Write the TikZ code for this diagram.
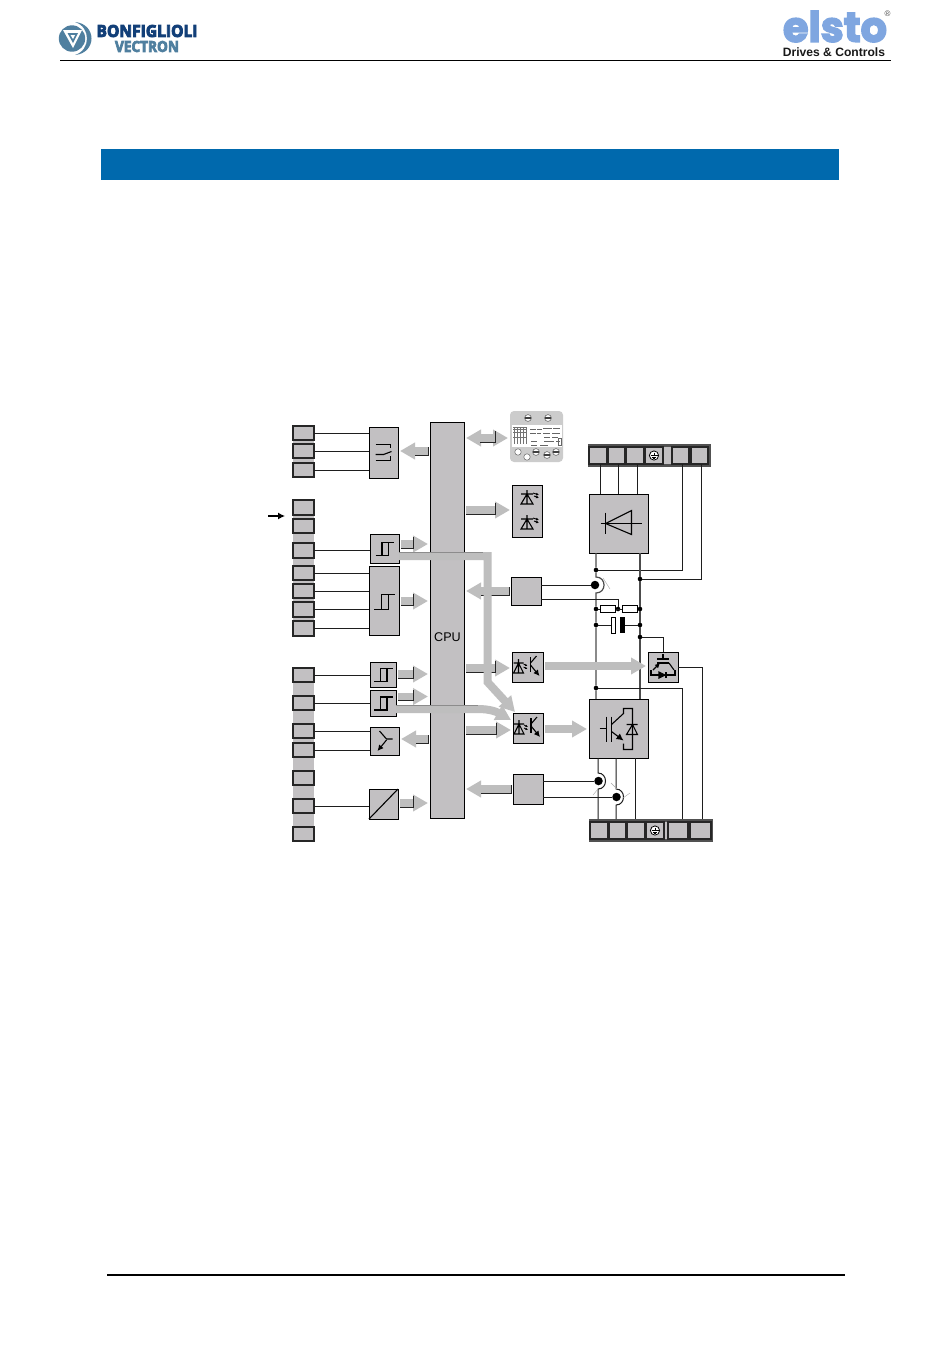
\documentclass[tikz,border=0pt]{standalone}
\usepackage{fontspec}
\usetikzlibrary{arrows.meta,calc}
\setmainfont{Liberation Sans}
\newfontfamily\logofont{Open Sans}
\newfontfamily\elstofont{Poppins}
\definecolor{boxgrey}{HTML}{C2C0C2}
\definecolor{arrgrey}{HTML}{BEBEBE}
\definecolor{wire}{HTML}{1E1E1E}
\definecolor{edge}{HTML}{262626}
\definecolor{barblue}{HTML}{0069AD}
\definecolor{navy}{HTML}{123F78}
\definecolor{steel}{HTML}{4F7F9F}
\definecolor{elstoblue}{HTML}{7FA6E0}
\tikzset{
  blk/.style={draw=black,fill=boxgrey,line width=0.9pt,inner sep=0pt,outer sep=0pt},
  term/.style={draw=edge,fill=boxgrey,line width=1.25pt,inner sep=0pt,outer sep=0pt},
  strip/.style={fill=boxgrey,draw=none,inner sep=0pt,outer sep=0pt},
  darkstrip/.style={fill=edge!80,draw=none,inner sep=0pt,outer sep=0pt},
  wirel/.style={draw=wire,line width=1pt},
  dot/.style={circle,fill=black,draw=none,minimum size=4.6pt,inner sep=0pt,outer sep=0pt},
  bigdot/.style={circle,fill=black,draw=none,minimum size=8.5pt,inner sep=0pt,outer sep=0pt},
  sym/.style={draw=black,line width=1.1pt},
  ga/.style={draw=arrgrey,line width=7.5pt,shorten <=2pt,shorten >=2pt,-{Triangle[length=15pt,width=16pt,fill=arrgrey]}},
  gab/.style={draw=arrgrey,line width=7.5pt,shorten <=2pt,shorten >=2pt,{Triangle[length=15pt,width=16pt,fill=arrgrey]}-{Triangle[length=15pt,width=16pt,fill=arrgrey]}},
  band/.style={draw=arrgrey,line width=8pt,miter limit=4,-{Triangle[length=15pt,width=16pt,fill=arrgrey]}},
  darkedge/.style={draw=edge,line width=0.7pt},
  tick/.style={draw=black!35,line width=0.4pt},
  schmitt/.pic={\draw[sym] (-10,9)--(4.3,9)--(4.3,-6)--(-2.7,-6)--(-2.7,9); \draw[sym] (-2.7,-6)--(10.7,-6);},
  schmitts/.pic={\draw[sym] (-9,7)--(4,7)--(4,-6)--(-2.5,-6)--(-2.5,7); \draw[sym] (-2.5,-6)--(9.5,-6);},
  relay/.pic={\draw[sym] (-8,-8)--(7,-8)--(7,-5); \draw[sym] (-8,2)--(0,2)--(8,-1); \draw[sym] (-8,8)--(7,8)--(7,3);},
  trans/.pic={\draw[sym] (-5,-10)--(2,-2)--(8,-2); \draw[sym,-{Latex[length=6pt,width=6pt]}] (2,-1)--(-7,10);},
  led/.pic={\draw[sym] (-6,-4)--(6,-4) (0,-8)--(0,6) (-6,6)--(6,6)--(0,-4)--(-6,6)--cycle;
            \draw[black,line width=0.9pt,-{Latex[length=3pt,width=3pt]}] (6,-5)--(12,-3);
            \draw[black,line width=0.9pt,-{Latex[length=3pt,width=3pt]}] (7,-2)--(12,0);},
  opto/.pic={\draw[sym] (-14,-4)--(-4,-4) (-9,-8)--(-9,6) (-14,6)--(-4,6)--(-9,-4)--(-14,6)--cycle;
            \draw[black,line width=0.8pt,-{Latex[length=2.5pt,width=2.5pt]}] (-4,-3)--(0,-1);
            \draw[black,line width=0.8pt,-{Latex[length=2.5pt,width=2.5pt]}] (-4,0)--(0,2);
            \draw[sym,line width=1.3pt] (3,-10)--(3,5);
            \draw[sym] (3,-4)--(9,-11);
            \draw[sym,-{Latex[length=6pt,width=6pt]}] (3,-2)--(12,9);},
  diode/.pic={\draw[sym] (-18,0)--(23,0); \draw[sym,line width=1.3pt] (-13,-11)--(-13,10); \draw[sym] (-13,0)--(13,-13)--(13,11)--cycle;},
  igbt/.pic={\draw[sym] (-19,0)--(-12,0); \draw[sym,line width=1.3pt] (-12,-12)--(-12,13) (-7,-12)--(-7,13);
     \draw[sym] (-7,-4)--(5,-15)--(5,-20)--(14,-20)--(14,21)--(5,21)--(5,15);
     \draw[sym,-{Latex[length=7pt,width=7pt]}] (-7,3)--(5,12);
     \draw[sym] (8,-4)--(19,-4) (14,-4)--(8,6)--(19,6)--cycle;},
  chopper/.pic={\draw[sym] (0,-13)--(0,-8) (-6,-8)--(6,-8); \draw[sym] (-6,-4)--(6,-4);
     \draw[sym,-{Latex[length=5pt,width=5pt]}] (-10,3)--(-3,-4);
     \draw[sym] (6,-4)--(11,3);
     \draw[sym] (-12,3)--(-12,8)--(-4,8) (3,8)--(12,8)--(12,3);
     \draw[sym,fill=black] (-4,5)--(-4,11)--(2,8)--cycle; \draw[sym] (3,5)--(3,11);},
  earth/.pic={\draw[black,line width=0.8pt,fill=white] (0,0) circle (4.6pt);
     \draw[black,line width=0.7pt] (0,-3)--(0,0) (-3.5,0)--(3.5,0) (-2.4,1.5)--(2.4,1.5) (-1.2,3)--(1.2,3);}
}
\newcommand{\nb}[6][blk]{\node[#1,minimum width={(#5-#3)*1pt},minimum height={(#6-#4)*1pt}] (#2) at ({(#3+#5)/2},{(#4+#6)/2}) {};}
\newcommand{\garR}[2]{\draw[ga] (#1)--(#2);
  \draw[darkedge] ($(#1)+(2,4)$)--($(#2)+(-17,4)$)--($(#2)+(-17,-7)$);}
\newcommand{\garL}[2]{\draw[ga] (#1)--(#2);
  \draw[darkedge] ($(#1)+(-2,-4)$)--($(#1)+(-2,4)$)--($(#2)+(17,4)$);}
\begin{document}
\begin{tikzpicture}[x=1pt,y=-1pt]
\useasboundingbox (0,0) rectangle (950,1353);
\fill[white] (0,0) rectangle (950,1353);

% ---------- header ----------
\nb[draw=none,inner sep=0pt]{hdrbar}{101}{149}{839}{180}
\fill[barblue] (hdrbar.south west) rectangle (hdrbar.north east);
\draw[black,line width=1pt] (60,60.5)--(891,60.5);
\draw[black,line width=2pt] (107,1275)--(845,1275);

% Bonfiglioli logo
\fill[steel] (72,38.5) circle (13.2pt);
\fill[white] (63,30)--(82,30)--(73,48)--cycle;
\fill[steel] (67.5,33)--(78,33)--(73,43)--cycle;
\fill[white] (70.5,35)--(75,35)--(73,39)--cycle;
\fill[steel] (75,22) .. controls (97,24) and (97,53) .. (75,55) .. controls (91,50) and (91,27) .. (75,22) -- cycle;
\node[inner sep=0pt,anchor=center] (bonf) at (147,31) {\resizebox{101pt}{12pt}{\special{pdf:code 2 Tr 0.5 w 0.07 0.25 0.47 RG}\logofont\bfseries\textcolor{navy}{BONFIGLIOLI}\special{pdf:code 0 Tr}}};
\node[inner sep=0pt,anchor=center] (vect) at (147,46.5) {\resizebox{64pt}{11pt}{\special{pdf:code 2 Tr 0.5 w 0.31 0.5 0.62 RG}\logofont\bfseries\textcolor{steel}{VECTRON}\special{pdf:code 0 Tr}}};

% Elsto logo
\node[inner sep=0pt,anchor=center] (elsto) at (835,26.5) {\resizebox{104pt}{31pt}{\special{pdf:code 2 Tr 0.35 w 0.16 0.35 0.65 RG}\elstofont\bfseries\textcolor{elstoblue}{elsto}\special{pdf:code 0 Tr}}};
\node[inner sep=0pt,text=black!70,font=\fontsize{8}{8}\selectfont] (reg) at (887.5,14) {®};
\node[inner sep=0pt,font=\bfseries\fontsize{12.1}{12}\selectfont,text=black!90] (drives) at (834,52) {Drives \& Controls};

% ---------- terminals, left ----------
\nb[strip]{g1}{293}{426}{314}{477}
\nb[strip]{g2}{293}{500}{314}{636}
\nb[strip]{g3}{293}{668}{314}{841}
\nb[term]{a1}{293}{426}{314}{440}
\nb[term]{a2}{293}{444}{314}{458}
\nb[term]{a3}{293}{463}{314}{477}
\nb[term]{b1}{293}{500}{314}{515}
\nb[term]{b2}{293}{519}{314}{533}
\nb[term]{b3}{293}{543}{314}{558}
\nb[term]{b4}{293}{566}{314}{580}
\nb[term]{b5}{293}{584}{314}{598}
\nb[term]{b6}{293}{602}{314}{617}
\nb[term]{b7}{293}{621}{314}{636}
\nb[term]{c1}{293}{668}{314}{682}
\nb[term]{c2}{293}{696}{314}{710}
\nb[term]{c3}{293}{724}{314}{738}
\nb[term]{c4}{293}{743}{314}{757}
\nb[term]{c5}{293}{771}{314}{785}
\nb[term]{c6}{293}{799}{314}{813}
\nb[term]{c7}{293}{827}{314}{841}

% ---------- function blocks, left ----------
\nb{rel}{369}{427}{398}{478}
\nb{s1}{370}{534}{399}{563}
\nb{s2}{369}{566}{399}{635}
\nb{s3}{370}{662}{396}{687}
\nb{s4}{370}{690}{396}{716}
\nb{tr}{370}{727}{399}{755}
\nb{da}{369}{789}{398}{819}
\nb{cpu}{430}{422}{464}{818}
\node[inner sep=0pt,font=\fontsize{12.6}{13}\selectfont] (cpulabel) at (447.5,637) {CPU};

\path (rel.center) pic {relay};
\path (s1.center) pic {schmitts};
\path (s2.center) pic {schmitt};
\path (s3.center) pic {schmitts};
\path (s4.center) pic {schmitts};
\path (tr.center) pic {trans};
\draw[sym] (da.south west)--(da.north east);

\foreach \t/\b in {a1/rel,a2/rel,a3/rel,b3/s1,b4/s2,b5/s2,b6/s2,b7/s2,c1/s3,c2/s4,c3/tr,c4/tr,c6/da}
  \draw[wirel] (\t.east)--(\t.east -| \b.west);

\coordinate (inarrow) at (268,516);
\coordinate (inarrowend) at (285,516);
\draw[black,line width=1.2pt,-{Latex[length=7pt,width=7pt]}] (inarrow)--(inarrowend);

% ---------- function blocks, right ----------
\nb{led}{512}{485}{542}{537}
\path ($(led.center)+(0,-13)$) pic {led};
\path ($(led.center)+(0,12)$) pic {led};
\nb{sa}{511}{577}{541}{605}
\nb{op1}{512}{652}{543}{682}
\nb{op2}{513}{713}{543}{743}
\nb{sb}{513}{774}{543}{804}
\path (op1.center) pic {opto};
\path (op2.center) pic {opto};

% Display
\node[fill=black!20,rounded corners=4pt,minimum width=53pt,minimum height=51pt,inner sep=0pt,outer sep=0pt] (disp) at (536.5,436.5) {};
\fill[white] (512,425) rectangle (562,447);
\foreach \x in {514,517,520,523,526}{\draw[black!55,line width=0.5pt] (\x,427)--(\x,444);}
\foreach \y in {427,429.5,432,437}{\draw[black!55,line width=0.5pt] (513,\y)--(527,\y);}
\foreach \x/\y/\l in {530/429/6,537/429/5,543/428/9,553/428/7,530/433/6,537/433/4,543/433/7,552/433/8,544/437/6,552/437/6,544/441/10,556/441/4,531/441/6,540/445/8,531/445/6}{
  \draw[black!60,line width=0.9pt] (\x,\y)--++(\l,0);}
\draw[black!60,line width=0.4pt] (558,438) rectangle (561,445);
\foreach \x/\y in {528/418,548/418,536/452,547/455,556/452}{
  \draw[black!70,fill=white,line width=0.5pt] (\x,\y) circle (3.4pt);
  \fill[black!75] (\x-2.6,\y-0.8) rectangle (\x+2.6,\y+0.8);}
\foreach \x/\y in {518/452,527/457}{
  \draw[black!60,fill=white,line width=0.5pt] (\x,\y) circle (3.2pt);}

% ---------- top power terminals ----------
\nb[darkstrip]{ts}{588}{444}{711}{467}
\fill[boxgrey] (663.5,447) rectangle (671.5,464);
\nb[term]{tt1}{589}{447}{607}{464}
\nb[term]{tt2}{608}{447}{625}{464}
\nb[term]{tt3}{626}{447}{644}{464}
\nb[term]{tt4}{645}{447}{663}{464}
\nb[term]{tt5}{672}{447}{689}{464}
\nb[term]{tt6}{691}{447}{708}{464}
\path (tt4.center) pic {earth};

% ---------- bottom power terminals ----------
\nb[darkstrip]{bs}{589}{819}{713}{842}
\fill[boxgrey] (664,822) rectangle (668,839);
\nb[term]{bt1}{590}{822}{608}{839}
\nb[term]{bt2}{609}{822}{626}{839}
\nb[term]{bt3}{627}{822}{645}{839}
\nb[term]{bt4}{646}{822}{664}{839}
\nb[term]{bt5}{668}{822}{688}{839}
\nb[term]{bt6}{690}{822}{711}{839}
\path (bt4.center) pic {earth};

% ---------- power blocks ----------
\nb{rect}{589}{494}{648}{553}
\nb{igbt}{589}{699}{648}{758}
\nb{brk}{648}{652}{678}{682}
\path (rect.center) pic {diode};
\path (igbt.center) pic {igbt};
\path (brk.center) pic {chopper};

% junctions
\node[dot] (jl1) at (596,570) {};
\node[dot] (jr1) at (640,579) {};
\node[bigdot] (hs1) at (595,585) {};
\node[dot] (jl2) at (596,609) {};
\node[dot] (jm)  at (618,609) {};
\node[dot] (jr2) at (640,609) {};
\node[dot] (jl3) at (596,625) {};
\node[dot] (jr3) at (640,625) {};
\node[dot] (jr4) at (640,637) {};
\node[dot] (jl4) at (596,688) {};
\node[bigdot] (hs2) at (598.5,781) {};
\node[bigdot] (hs3) at (616.5,797) {};

% wires from rectifier
\draw[wirel] (600,464)--(600,494);
\draw[wirel] (618,464)--(618,494);
\draw[wirel] (637,464)--(637,494);
\draw[wirel] ([xshift=1.5pt]tt5.south)--([xshift=1.5pt]tt5.south |- jl1)--(jl1);
\draw[wirel] ([xshift=1.5pt]tt6.south)--([xshift=1.5pt]tt6.south |- jr1)--(jr1);

% DC bus
\draw[draw=white,line width=3.2pt] (596,577) .. controls (606.7,577) and (606.7,593) .. (596,593);
\draw[wirel,draw=black!70,line width=1.2pt] (596,553)--(jl1)--(596,577) .. controls (606.7,577) and (606.7,593) .. (596,593)--(jl2)--(jl3)--(jl4)--(596,699);
\draw[wirel,draw=black!70,line width=1.2pt] (640,553)--(jr1)--(jr2)--(jr3)--(jr4)--(640,699);
\draw[tick] (603,578)--(610,589);
\draw[wirel] (sa.east |- hs1)--(hs1);
\draw[wirel] (541,599)--(618,599)--(jm);

% resistors and capacitor
\draw[wirel] (jl2)--(jr2);
\draw[wirel] (jl3)--(jr3);
\node[draw=black,fill=white,line width=0.8pt,minimum width=15pt,minimum height=6.5pt,inner sep=0pt] (r1) at (607.5,609) {};
\node[draw=black,fill=white,line width=0.8pt,minimum width=15pt,minimum height=6.5pt,inner sep=0pt] (r2) at (629.5,609) {};
\node[draw=black,fill=white,line width=0.8pt,minimum width=4pt,minimum height=16pt,inner sep=0pt] (c1) at (613,625) {};
\fill[white] (615.5,622) rectangle (619.5,628);
\node[fill=black,minimum width=4.5pt,minimum height=16pt,inner sep=0pt] (c2) at (622.5,625) {};

% chopper wiring
\draw[wirel] (jr4)--(663,637)--(663,652);
\draw[wirel] (brk.east)--(702,667)--(702,819);
\draw[wirel] (jl4)--(682,688)--(682,819);

% IGBT outputs with hops
\draw[draw=white,line width=3.2pt] (598,773) .. controls (608,773) and (608,789) .. (598,789);
\draw[draw=white,line width=3.2pt] (616,789) .. controls (626,789) and (626,805) .. (616,805);
\draw[wirel] (598,758)--(598,773) .. controls (608,773) and (608,789) .. (598,789)--(598,819);
\draw[wirel] (616,758)--(616,789) .. controls (626,789) and (626,805) .. (616,805)--(616,819);
\draw[wirel] (635,758)--(635,819);
\draw[wirel] (sb.east |- hs2)--(hs2);
\draw[wirel] (sb.east |- hs3)--(hs3);
\draw[tick] (593,795)--(598,789);
\draw[tick] (611,783)--(617,789);
\draw[tick] (623,798)--(630,793);

% ---------- block arrows ----------
\coordinate (ar1) at (rel.east |- 0,451);
\garL{ar1 -| cpu.west}{ar1}
\coordinate (ad) at (cpu.east |- 0,438);
\draw[gab] (ad)--(ad -| disp.west);
\draw[darkedge] (480,442)--(495,442)--(495,431);
\coordinate (al) at (cpu.east |- 0,510);
\garR{al}{al -| led.west}
\coordinate (as1) at (s1.east |- 0,544);
\garR{as1}{as1 -| cpu.west}
\coordinate (as2) at (s2.east |- 0,601);
\garR{as2}{as2 -| cpu.west}
\coordinate (as3) at (s3.east |- 0,674);
\garR{as3}{as3 -| cpu.west}
\coordinate (as4) at (s4.east |- 0,696.5);
\garR{as4}{as4 -| cpu.west}
\coordinate (atr) at (tr.east |- 0,739);
\garL{atr -| cpu.west}{atr}
\coordinate (ada) at (da.east |- 0,803);
\garR{ada}{ada -| cpu.west}
\coordinate (asa) at (sa.west |- 0,591);
\garL{asa}{asa -| cpu.east}
\coordinate (asb) at (sb.west |- 0,789);
\garL{asb}{asb -| cpu.east}
\coordinate (ao1) at (cpu.east |- 0,668);
\garR{ao1}{ao1 -| op1.west}
\coordinate (ao2) at (cpu.east |- 0,730);
\garR{ao2}{ao2 -| op2.west}
\coordinate (ao3) at (op1.east |- 0,666);
\draw[ga] (ao3)--(ao3 -| brk.west);
\coordinate (ao4) at (op2.east);
\draw[ga] (ao4 |- 0,729)--(igbt.west |- 0,729);

% signal bands crossing the CPU
\coordinate (bs1) at (s1.east |- 0,556);
\coordinate (bt1) at (op2.north west);
\draw[band] (bs1)--(487.5,556)--(487.5,682)--($(bt1)+(2,-1)$);
\coordinate (bs4) at (s4.east |- 0,709);
\draw[band] (bs4)--(478,709) .. controls (490,709) and (497,712) .. (511,720);
\draw[draw=black!45,line width=0.5pt] (399,552)--(483,552);
\draw[draw=black!45,line width=0.5pt] (396,705)--(478,705);
\end{tikzpicture}
\end{document}
